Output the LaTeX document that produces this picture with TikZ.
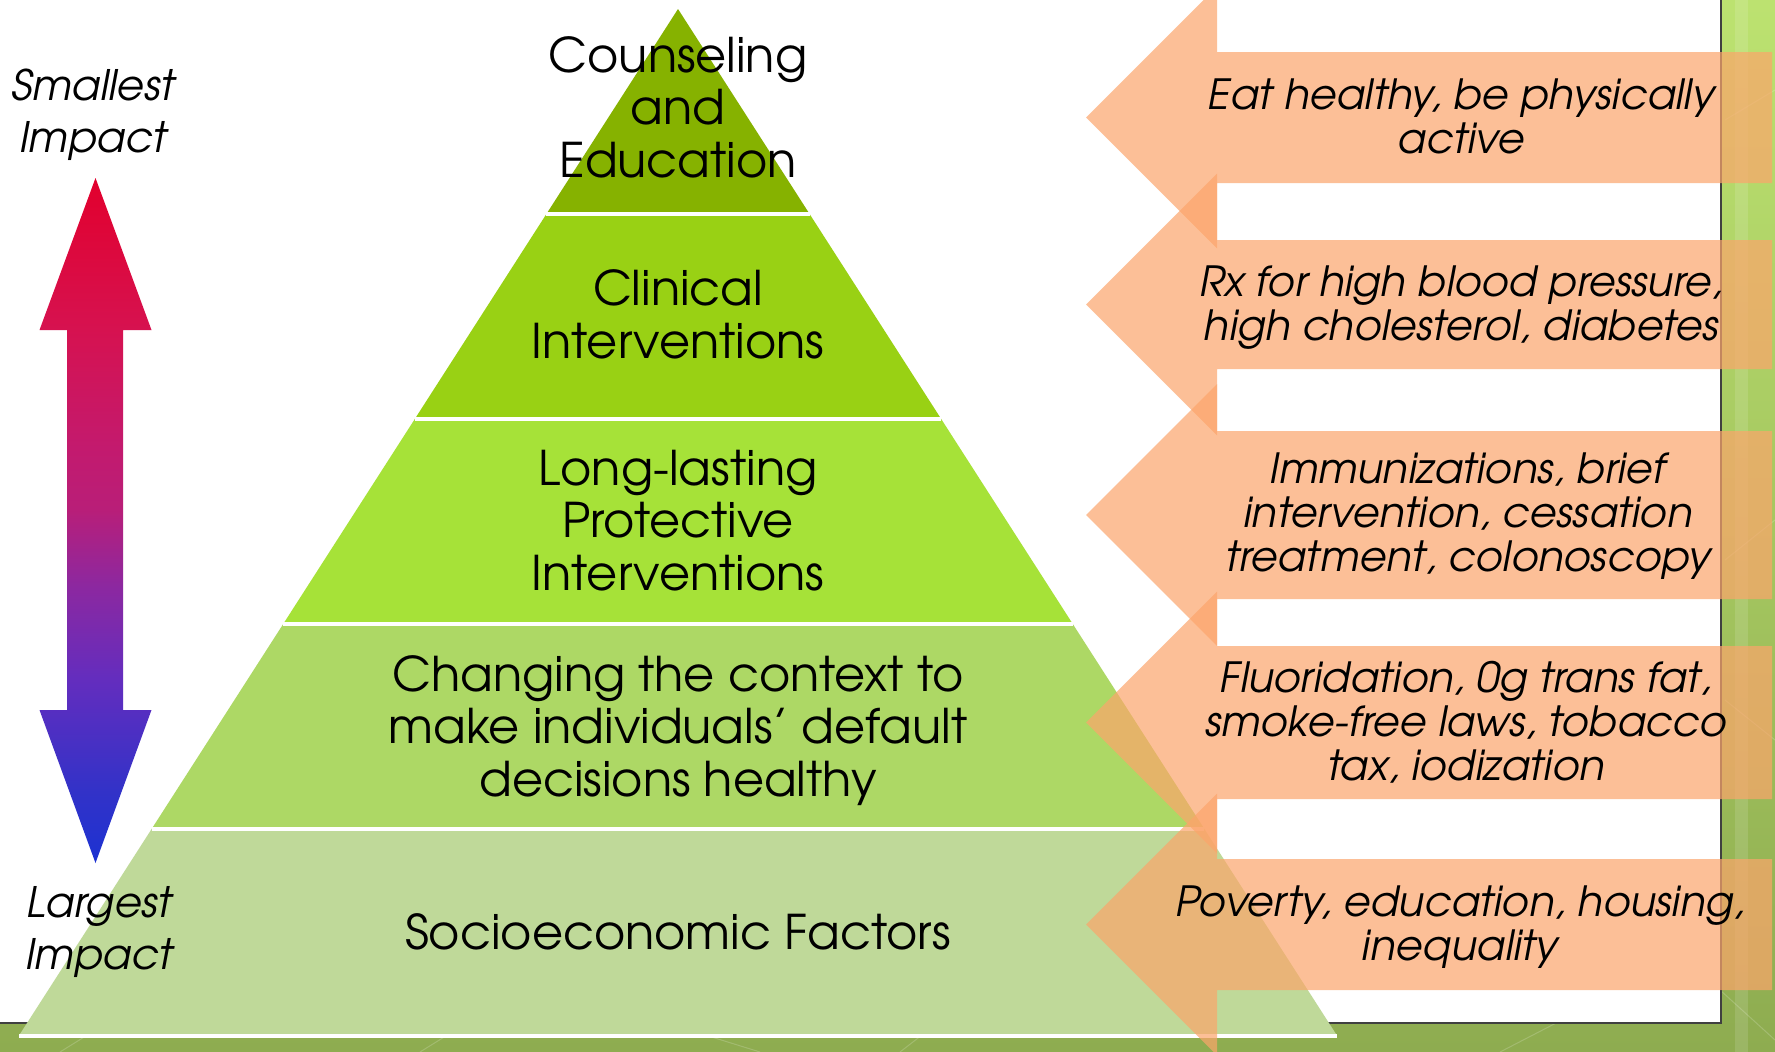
\documentclass[tikz,border=0pt]{standalone}
\usepackage{fontspec}
\setmainfont{TeX Gyre Adventor}
\usetikzlibrary{calc}
\definecolor{bgtop}{RGB}{188,226,112}
\definecolor{bgbot}{RGB}{142,172,80}
\definecolor{lv1}{RGB}{134,178,0}
\definecolor{lv2}{RGB}{153,209,20}
\definecolor{lv3}{RGB}{166,226,56}
\definecolor{lv4}{RGB}{173,216,101}
\definecolor{lv5}{RGB}{191,217,153}
\definecolor{arr}{RGB}{252,165,107}
\definecolor{ga0}{RGB}{28,50,210}
\definecolor{ga1}{RGB}{50,50,200}
\definecolor{ga2}{RGB}{100,45,190}
\definecolor{ga3}{RGB}{140,40,160}
\definecolor{ga4}{RGB}{185,30,120}
\definecolor{ga5}{RGB}{195,26,110}
\definecolor{ga6}{RGB}{214,18,80}
\definecolor{ga7}{RGB}{226,0,45}
\pgfdeclareverticalshading{impact}{100bp}{color(0bp)=(ga0); color(25bp)=(ga0); color(30.2bp)=(ga1); color(38.5bp)=(ga2); color(45.2bp)=(ga3); color(50.9bp)=(ga4); color(55.3bp)=(ga5); color(63.9bp)=(ga6); color(75bp)=(ga7); color(100bp)=(ga7)}
\tikzset{
  pyrtext/.style={align=center, inner sep=0pt, text=black, font=\fontsize{47.8}{52.6}\selectfont},
  sidetext/.style={align=center, inner sep=0pt, text=black, font=\fontsize{42}{52}\selectfont\itshape},
  arrtext/.style={align=center, inner sep=0pt, text=black, font=\fontsize{41.6}{44}\selectfont\itshape},
  orangearrow/.style={fill=arr, fill opacity=0.7},
  sep/.style={draw=white, line width=3.5pt}
}
\begin{document}
\begin{tikzpicture}[x=1pt,y=-1pt]
\useasboundingbox (0,0) rectangle (1775,1052);
\clip (0,0) rectangle (1775,1052);
% background
\shade[top color=bgtop, bottom color=bgbot] (0,0) rectangle (1775,1052);
\foreach \a/\b/\c/\d in {60/1052/160/990, 420/1052/520/990, 560/990/760/1052, 900/1052/980/990, 1500/1052/1620/990, 1720/990/1775/1040, 1725/120/1775/90, 1725/560/1775/520, 1725/700/1775/740}
  \draw[white, opacity=0.18, line width=1pt] (\a,\b) -- (\c,\d);
\fill[white, opacity=0.12] (1735,0) rectangle (1748,1052);
\fill[white] (0,0) rectangle (1721,1023);
\draw[line width=2pt, black!75] (1721,0) -- (1721,1023) -- (0,1023);
% pyramid
\fill[lv1] (678,9) -- (809.6,214) -- (546.4,214) -- cycle;
\fill[lv2] (546.4,214) -- (809.6,214) -- (941.2,419) -- (414.8,419) -- cycle;
\fill[lv3] (414.8,419) -- (941.2,419) -- (1072.8,624) -- (283.2,624) -- cycle;
\fill[lv4] (283.2,624) -- (1072.8,624) -- (1204.4,829) -- (151.6,829) -- cycle;
\fill[lv5] (151.6,829) -- (1204.4,829) -- (1336,1034) -- (20,1034) -- cycle;
\draw[sep] (546.4,214) -- (809.6,214);
\draw[sep] (414.8,419) -- (941.2,419);
\draw[sep] (283.2,624) -- (1072.8,624);
\draw[sep] (151.6,829) -- (1204.4,829);
\draw[sep] (19,1036) -- (1337,1036);
\node[pyrtext] (l1) at (678,107) {Counseling\\and\\Education};
\node[pyrtext] (l2) at (678,314.5) {Clinical\\Interventions};
\node[pyrtext] (l3) at (678,520.5) {Long-lasting\\Protective\\Interventions};
\node[pyrtext] (l4) at (678,730.5) {Changing the context to\\make individuals’ default\\decisions healthy};
\node[pyrtext] (l5) at (678,931.5) {Socioeconomic Factors};
% left double arrow
\shade[shading=impact] (95.5,178) -- (151.5,330) -- (123,330) -- (123,710) -- (151.5,710) -- (95.5,863) -- (39.5,710) -- (67,710) -- (67,330) -- (39.5,330) -- cycle;
\node[sidetext] (small) at (93,115) {Smallest\\Impact};
\node[sidetext] (large) at (99,932.5) {Largest\\Impact};
% right arrows
\foreach \yc/\h in {117.5/65.5, 304.5/64.5, 515/84, 722.5/76.5, 924.5/65.5}
  \fill[orangearrow] (1086,\yc) -- (1217,\yc-131) -- (1217,\yc-\h) -- (1772,\yc-\h) -- (1772,\yc+\h) -- (1217,\yc+\h) -- (1217,\yc+131) -- cycle;
\node[arrtext] (t1) at (1461,116) {Eat healthy, be physically\\active};
\node[arrtext] (t2) at (1461,307.5) {Rx for high blood pressure,\\high cholesterol, diabetes};
\node[arrtext] (t3) at (1468,516.5) {Immunizations, brief\\intervention, cessation\\treatment, colonoscopy};
\node[arrtext] (t4) at (1466,722) {Fluoridation, 0g trans fat,\\smoke-free laws, tobacco\\tax, iodization};
\node[arrtext] (t5) at (1460,927.5) {Poverty, education, housing,\\inequality};
\end{tikzpicture}
\end{document}
